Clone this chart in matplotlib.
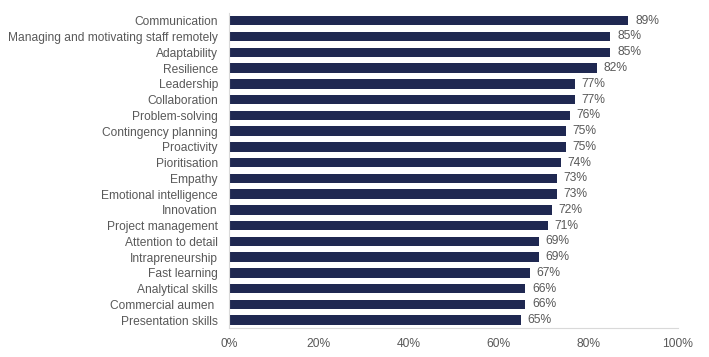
import matplotlib
matplotlib.use("Agg")
import matplotlib.pyplot as plt
from matplotlib.ticker import FuncFormatter

categories = ["Communication", "Managing and motivating staff remotely", "Adaptability",
              "Resilience", "Leadership", "Collaboration", "Problem-solving",
              "Contingency planning", "Proactivity", "Pioritisation", "Empathy",
              "Emotional intelligence", "Innovation", "Project management",
              "Attention to detail", "Intrapreneurship", "Fast learning",
              "Analytical skills", "Commercial aumen ", "Presentation skills"]
values = [89, 85, 85, 82, 77, 77, 76, 75, 75, 74, 73, 73, 72, 71, 69, 69, 67, 66, 66, 65]
xticks = [0, 20, 40, 60, 80, 100]

plt.rcParams['font.family'] = ['Liberation Sans', 'DejaVu Sans']
text_color = "#595959"
bar_color = "#1F2851"
fs = 8.65

fig = plt.figure(figsize=(7.09, 3.57), dpi=100)
ax = fig.add_axes([0.323, 0.081, 0.633, 0.883])

y = list(range(len(categories)))
ax.barh(y, values, height=0.6, color=bar_color)
for yi, v in zip(y, values):
    ax.text(v + 1.5, yi, f"{v}%", va="center", ha="left", fontsize=fs, color=text_color)

ax.set_yticks(y)
ax.set_yticklabels(categories, fontsize=fs, color=text_color)
ax.set_ylim(len(categories) - 0.5, -0.5)
ax.set_xlim(0, 100)
ax.set_xticks(xticks)
ax.xaxis.set_major_formatter(FuncFormatter(lambda v, p: f"{int(v)}%"))
ax.tick_params(axis='x', labelsize=fs, labelcolor=text_color, length=0, pad=7)
ax.tick_params(axis='y', length=0, pad=8)

for s in ["top", "right"]:
    ax.spines[s].set_visible(False)
ax.spines["left"].set_color("#D9D9D9")
ax.spines["bottom"].set_color("#D9D9D9")

fig.savefig("out.png", dpi=100)
